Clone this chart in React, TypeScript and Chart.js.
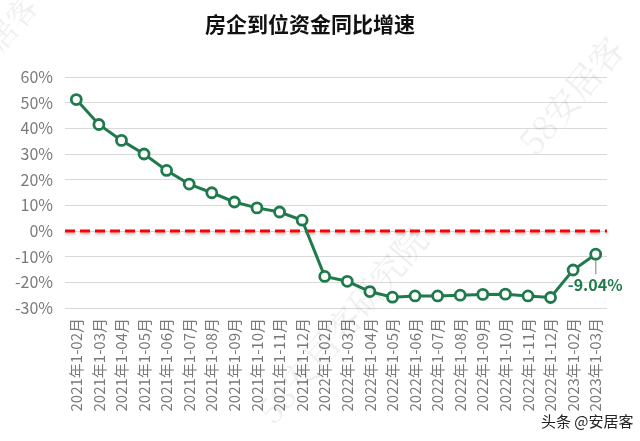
import React, { useEffect, useRef } from "react";
import { Chart, registerables } from "chart.js";

Chart.register(...registerables);

const TITLE = "房企到位资金同比增速";
const CATEGORIES = [
  "2021年1-02月", "2021年1-03月", "2021年1-04月", "2021年1-05月", "2021年1-06月",
  "2021年1-07月", "2021年1-08月", "2021年1-09月", "2021年1-10月", "2021年1-11月",
  "2021年1-12月", "2022年1-02月", "2022年1-03月", "2022年1-04月", "2022年1-05月",
  "2022年1-06月", "2022年1-07月", "2022年1-08月", "2022年1-09月", "2022年1-10月",
  "2022年1-11月", "2022年1-12月", "2023年1-02月", "2023年1-03月",
];
const GROWTH = [
  51.2, 41.5, 35.3, 30.0, 23.6, 18.3, 14.9, 11.3, 9.0, 7.4, 4.2,
  -17.7, -19.6, -23.6, -25.8, -25.3, -25.3, -25.0, -24.7, -24.6, -25.3, -25.9,
  -15.2, -9.04,
];
const Y_MIN = -30;
const Y_MAX = 60;
const Y_STEP = 10;
const ZERO_LINE = 0;
const LAST_LABEL = "-9.04%";

const GREEN = "#1f7a4c";
const GRAY_TEXT = "#7a7a7a";
const FONT = "'Noto Sans CJK SC', 'Noto Sans', sans-serif";

export default function App() {
  const ref = useRef<HTMLCanvasElement | null>(null);

  useEffect(() => {
    document.body.style.margin = "0";
    const canvas = ref.current;
    if (!canvas) return;

    const overlay = {
      id: "overlay",
      beforeDatasetsDraw(chart: any) {
        const { ctx, chartArea, scales } = chart;
        const y = scales.y.getPixelForValue(ZERO_LINE);
        ctx.save();
        ctx.strokeStyle = "#ff0000";
        ctx.lineWidth = 3;
        ctx.setLineDash([10, 5]);
        ctx.shadowColor = "rgba(0,0,0,0.25)";
        ctx.shadowBlur = 3;
        ctx.shadowOffsetY = 2;
        ctx.beginPath();
        ctx.moveTo(chartArea.left, y);
        ctx.lineTo(chartArea.right, y);
        ctx.stroke();
        ctx.restore();

        const meta = chart.getDatasetMeta(0);
        const pt = meta.data[meta.data.length - 1];
        ctx.save();
        ctx.strokeStyle = "#a6a6a6";
        ctx.lineWidth = 1.5;
        ctx.beginPath();
        ctx.moveTo(pt.x, pt.y);
        ctx.lineTo(pt.x, pt.y + 20);
        ctx.stroke();
        ctx.restore();
      },
      afterDatasetsDraw(chart: any) {
        const { ctx } = chart;
        const meta = chart.getDatasetMeta(0);
        const pt = meta.data[meta.data.length - 1];
        ctx.save();
        ctx.font = `bold 16px ${FONT}`;
        ctx.fillStyle = GREEN;
        ctx.textAlign = "left";
        ctx.textBaseline = "middle";
        ctx.fillText(LAST_LABEL, pt.x - 28, pt.y + 31);
        ctx.restore();
      },
    };

    const chart = new Chart(canvas, {
      type: "line",
      data: {
        labels: CATEGORIES,
        datasets: [
          {
            data: GROWTH,
            borderColor: GREEN,
            borderWidth: 3,
            pointRadius: 5,
            pointBorderWidth: 2.8,
            pointBackgroundColor: "#ffffff",
            pointBorderColor: GREEN,
            tension: 0,
          },
        ],
      },
      options: {
        responsive: false,
        animation: false,
        layout: { padding: { top: 77, right: 33, left: 0, bottom: 0 } },
        plugins: {
          legend: { display: false },
          tooltip: { enabled: false },
          title: { display: false },
        },
        scales: {
          x: {
            offset: true,
            grid: { display: false, drawTicks: false },
            border: { display: false },
            ticks: {
              autoSkip: false,
              minRotation: 90,
              maxRotation: 90,
              padding: 10,
              color: GRAY_TEXT,
              font: { size: 15, family: FONT },
            },
            afterFit(scale: any) {
              scale.height = 133;
            },
          },
          y: {
            min: Y_MIN,
            max: Y_MAX,
            grid: { color: "#d9d9d9", lineWidth: 1, drawTicks: false },
            border: { display: false },
            ticks: {
              stepSize: Y_STEP,
              padding: 12,
              color: GRAY_TEXT,
              font: { size: 16, family: FONT },
              callback: (v: any) => `${v}%`,
            },
            afterFit(scale: any) {
              scale.width = 65;
            },
          },
        },
      },
      plugins: [overlay],
    });
    return () => chart.destroy();
  }, []);

  const wm: React.CSSProperties = {
    position: "absolute",
    color: "rgba(0,0,0,0.07)",
    fontFamily: "'Noto Serif CJK SC', serif",
    pointerEvents: "none",
    whiteSpace: "nowrap",
  };

  return (
    <div style={{ position: "fixed", left: 0, top: 0, width: 640, height: 441, background: "#fff", overflow: "hidden" }}>
      <canvas ref={ref} width={640} height={441} style={{ position: "absolute", left: 0, top: 0 }} />
      <div
        style={{
          position: "absolute",
          left: 0,
          top: 8,
          width: 620,
          textAlign: "center",
          fontFamily: FONT,
          fontWeight: "bold",
          fontSize: 21,
          color: "#111",
          lineHeight: "30px",
        }}
      >
        {TITLE}
      </div>
      <div style={{ ...wm, left: 220, top: 300, fontSize: 34, transform: "rotate(-50deg)" }}>58安居客研究院</div>
      <div style={{ ...wm, left: 500, top: 70, fontSize: 34, transform: "rotate(-50deg)" }}>58安居客</div>
      <div style={{ ...wm, left: -20, top: 0, fontSize: 30, transform: "rotate(-50deg)" }}>居客</div>
      <div
        style={{
          position: "absolute",
          left: 541,
          top: 410,
          fontSize: 15,
          fontFamily: FONT,
          color: "#222",
          whiteSpace: "nowrap",
        }}
      >
        头条 @安居客
      </div>
    </div>
  );
}
